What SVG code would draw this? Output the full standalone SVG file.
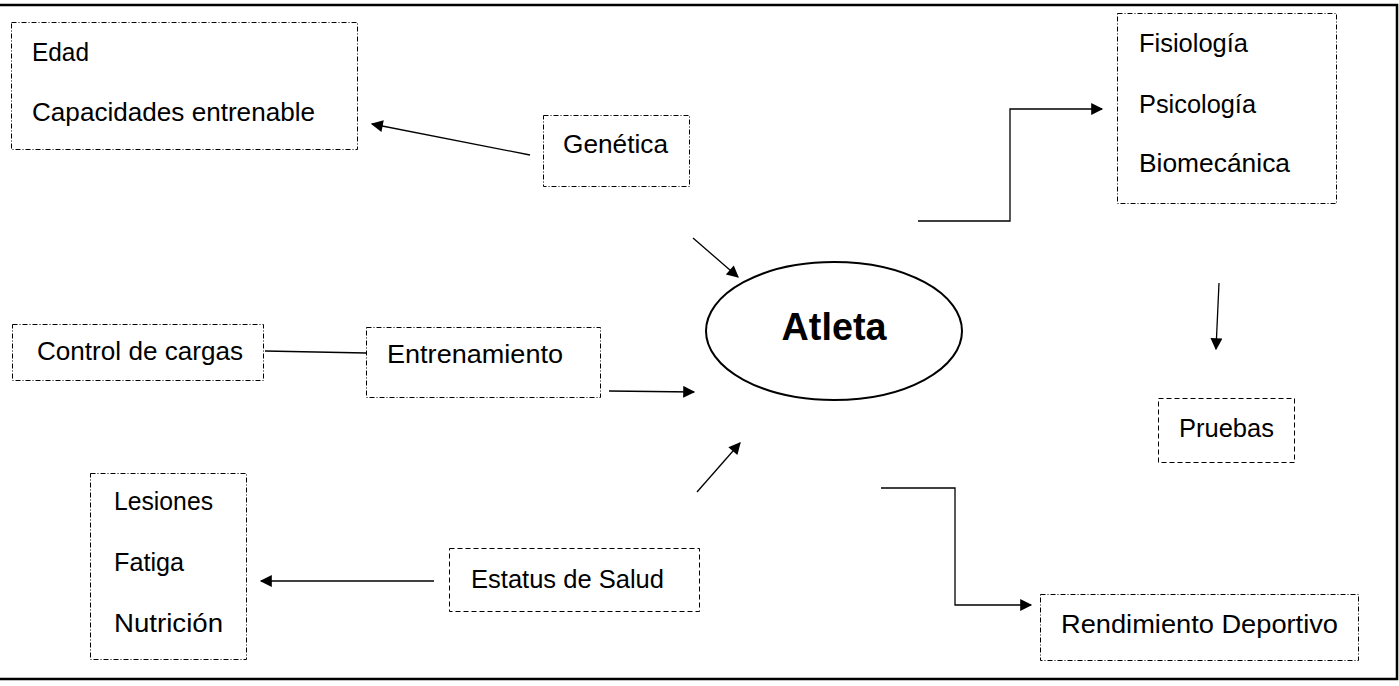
<svg xmlns="http://www.w3.org/2000/svg" width="1399" height="686" viewBox="0 0 1399 686">
<style>
.t{font-family:"Liberation Sans",Arial,sans-serif;font-size:26px;fill:#000}
.dd{fill:none;stroke:#000;stroke-width:1;stroke-dasharray:5 2 1 2}
.ds{fill:none;stroke:#000;stroke-width:1;stroke-dasharray:5 3}
.c{fill:none;stroke:#000;stroke-width:1.3}
</style>
<defs>
<marker id="ah" viewBox="0 0 10 10" refX="9" refY="5" markerWidth="15" markerHeight="12" markerUnits="userSpaceOnUse" orient="auto">
<path d="M0,0 L10,5 L0,10 z" fill="#000"/>
</marker>
</defs>
<rect width="1399" height="686" fill="#fff"/>
<path d="M0,5 H1397 V679 H0" fill="none" stroke="#000" stroke-width="2.5"/>
<g id="atleta">
<ellipse cx="834" cy="331" rx="128" ry="69" fill="none" stroke="#000" stroke-width="2"/>
<text x="834" y="340" text-anchor="middle" font-family="Liberation Sans, Arial, sans-serif" font-weight="bold" font-size="38" textLength="105" lengthAdjust="spacingAndGlyphs">Atleta</text>
</g>
<g id="edad">
<rect class="dd" x="11.5" y="22.5" width="346" height="127"/>
<text class="t" x="32" y="61" textLength="57" lengthAdjust="spacingAndGlyphs">Edad</text>
<text class="t" x="32" y="121" textLength="283" lengthAdjust="spacingAndGlyphs">Capacidades entrenable</text>
</g>
<g id="genetica">
<rect class="dd" x="543.5" y="115.5" width="146" height="71"/>
<text class="t" x="563" y="153" textLength="105" lengthAdjust="spacingAndGlyphs">Genética</text>
</g>
<g id="control">
<rect class="dd" x="12.5" y="324.5" width="251" height="56"/>
<text class="t" x="37" y="360" textLength="206" lengthAdjust="spacingAndGlyphs">Control de cargas</text>
</g>
<g id="entrenamiento">
<rect class="dd" x="366.5" y="327.5" width="234" height="70"/>
<text class="t" x="387" y="363" textLength="176" lengthAdjust="spacingAndGlyphs">Entrenamiento</text>
</g>
<g id="lesiones">
<rect class="dd" x="90.5" y="473.5" width="156" height="186"/>
<text class="t" x="114" y="510" textLength="99" lengthAdjust="spacingAndGlyphs">Lesiones</text>
<text class="t" x="114" y="571" textLength="70" lengthAdjust="spacingAndGlyphs">Fatiga</text>
<text class="t" x="114" y="632" textLength="109" lengthAdjust="spacingAndGlyphs">Nutrición</text>
</g>
<g id="salud">
<rect class="ds" x="449.5" y="548.5" width="250" height="63"/>
<text class="t" x="471" y="588" textLength="193" lengthAdjust="spacingAndGlyphs">Estatus de Salud</text>
</g>
<g id="fisiologia">
<rect class="dd" x="1117.5" y="13.5" width="219" height="190"/>
<text class="t" x="1139" y="52" textLength="109" lengthAdjust="spacingAndGlyphs">Fisiología</text>
<text class="t" x="1139" y="113" textLength="117" lengthAdjust="spacingAndGlyphs">Psicología</text>
<text class="t" x="1139" y="172" textLength="151" lengthAdjust="spacingAndGlyphs">Biomecánica</text>
</g>
<g id="pruebas">
<rect class="ds" x="1158.5" y="398.5" width="136" height="64"/>
<text class="t" x="1179" y="437" textLength="95" lengthAdjust="spacingAndGlyphs">Pruebas</text>
</g>
<g id="rendimiento">
<rect class="dd" x="1040.5" y="594.5" width="318" height="66"/>
<text class="t" x="1061" y="633" textLength="277" lengthAdjust="spacingAndGlyphs">Rendimiento Deportivo</text>
</g>
<g id="connectors">
<line class="c" x1="530" y1="155" x2="372" y2="124" marker-end="url(#ah)"/>
<line class="c" x1="693" y1="238" x2="738" y2="277" marker-end="url(#ah)"/>
<line class="c" x1="265" y1="351" x2="366" y2="353"/>
<line class="c" x1="609" y1="391" x2="694" y2="392" marker-end="url(#ah)"/>
<line class="c" x1="697" y1="492" x2="740" y2="443" marker-end="url(#ah)"/>
<line class="c" x1="434" y1="581" x2="261" y2="581" marker-end="url(#ah)"/>
<polyline class="c" points="918,221 1010,221 1010,109 1102,109" marker-end="url(#ah)"/>
<line class="c" x1="1219" y1="283" x2="1216" y2="349" marker-end="url(#ah)"/>
<polyline class="c" points="881,488 955,488 955,605 1031,605" marker-end="url(#ah)"/>
</g>
</svg>
